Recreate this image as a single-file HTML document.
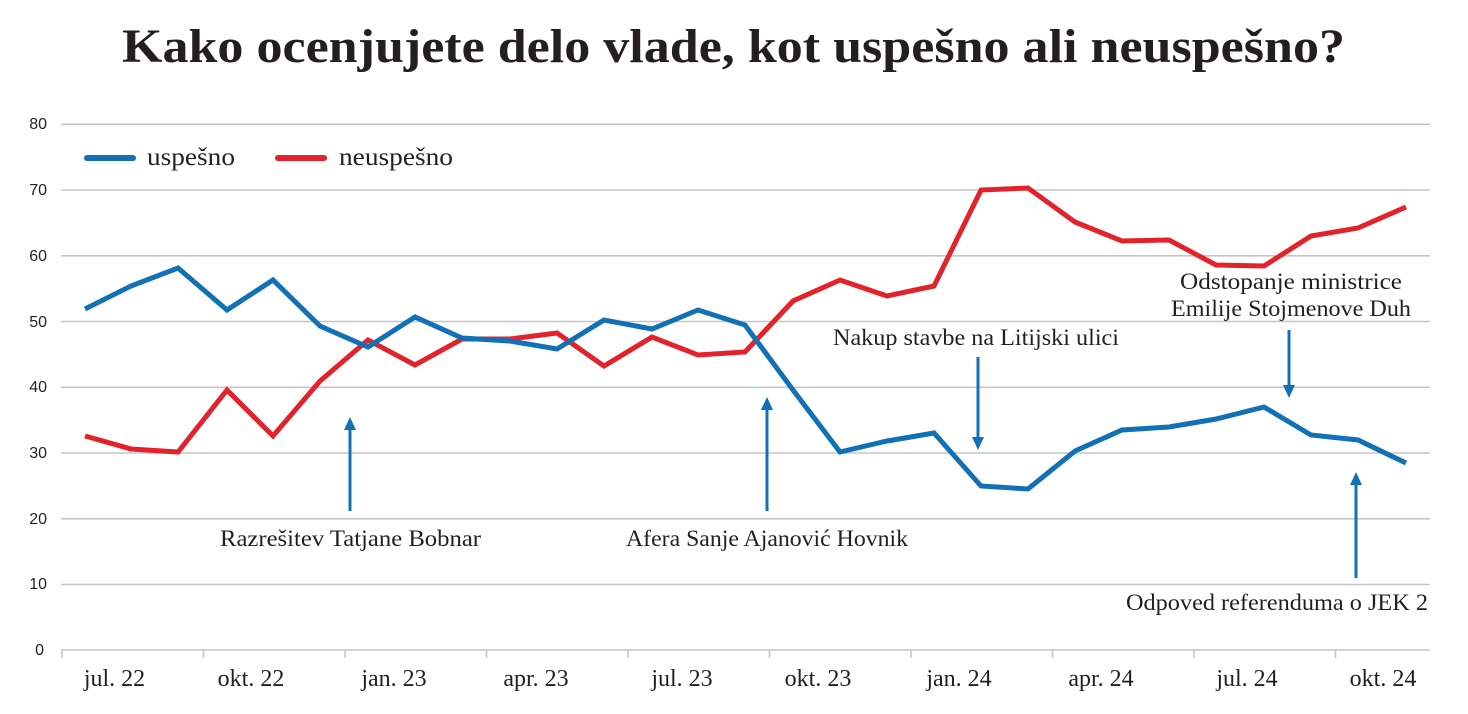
<!DOCTYPE html>
<html>
<head>
<meta charset="utf-8">
<style>
html,body{margin:0;padding:0;background:#fff;}
svg{display:block;}
</style>
</head>
<body>
<svg width="1468" height="714" viewBox="0 0 1468 714" xmlns="http://www.w3.org/2000/svg">
  <rect width="1468" height="714" fill="#fff"/>
  <!-- Title -->
  <text x="122" y="62" font-family="Liberation Serif, serif" font-weight="bold" font-size="48" fill="#231f20" textLength="1223" lengthAdjust="spacingAndGlyphs">Kako ocenjujete delo vlade, kot uspešno ali neuspešno?</text>

  <!-- Gridlines -->
  <g stroke="#c6c6c6" stroke-width="1.6">
    <line x1="61" y1="124.3" x2="1430" y2="124.3"/>
    <line x1="61" y1="190" x2="1430" y2="190"/>
    <line x1="61" y1="255.8" x2="1430" y2="255.8"/>
    <line x1="61" y1="321.5" x2="1430" y2="321.5"/>
    <line x1="61" y1="387.3" x2="1430" y2="387.3"/>
    <line x1="61" y1="453" x2="1430" y2="453"/>
    <line x1="61" y1="518.8" x2="1430" y2="518.8"/>
    <line x1="61" y1="584.5" x2="1430" y2="584.5"/>
    <line x1="61" y1="650" x2="1430" y2="650"/>
    <!-- ticks -->
    <line x1="62" y1="650" x2="62" y2="658"/>
    <line x1="203.5" y1="650" x2="203.5" y2="658"/>
    <line x1="345" y1="650" x2="345" y2="658"/>
    <line x1="486.5" y1="650" x2="486.5" y2="658"/>
    <line x1="628" y1="650" x2="628" y2="658"/>
    <line x1="769.5" y1="650" x2="769.5" y2="658"/>
    <line x1="911" y1="650" x2="911" y2="658"/>
    <line x1="1052.5" y1="650" x2="1052.5" y2="658"/>
    <line x1="1194" y1="650" x2="1194" y2="658"/>
    <line x1="1335.5" y1="650" x2="1335.5" y2="658"/>
  </g>

  <!-- Y labels -->
  <g font-family="Liberation Sans, sans-serif" font-size="16" fill="#231f20" text-anchor="end">
    <text x="47" y="129">80</text>
    <text x="47" y="195">70</text>
    <text x="47" y="261">60</text>
    <text x="47" y="327">50</text>
    <text x="47" y="392">40</text>
    <text x="47" y="458">30</text>
    <text x="47" y="524">20</text>
    <text x="47" y="589">10</text>
    <text x="44" y="655">0</text>
  </g>

  <!-- X labels -->
  <g font-family="Liberation Serif, serif" font-size="24" fill="#231f20" text-anchor="middle">
    <text x="114.5" y="686">jul. 22</text>
    <text x="251" y="686">okt. 22</text>
    <text x="394" y="686">jan. 23</text>
    <text x="536" y="686">apr. 23</text>
    <text x="682" y="686">jul. 23</text>
    <text x="818" y="686">okt. 23</text>
    <text x="959" y="686">jan. 24</text>
    <text x="1101" y="686">apr. 24</text>
    <text x="1247" y="686">jul. 24</text>
    <text x="1383" y="686">okt. 24</text>
  </g>

  <!-- Legend -->
  <line x1="87" y1="158" x2="133" y2="158" stroke="#1270b6" stroke-width="6" stroke-linecap="round"/>
  <text x="147" y="165" font-family="Liberation Serif, serif" font-size="25" fill="#231f20" textLength="88" lengthAdjust="spacingAndGlyphs">uspešno</text>
  <line x1="278" y1="158" x2="324" y2="158" stroke="#e3232b" stroke-width="6" stroke-linecap="round"/>
  <text x="339" y="165" font-family="Liberation Serif, serif" font-size="25" fill="#231f20" textLength="114" lengthAdjust="spacingAndGlyphs">neuspešno</text>

  <!-- Red series -->
  <polyline fill="none" stroke="#e3232b" stroke-width="5" stroke-linejoin="miter" stroke-linecap="butt"
    points="85,436 131,449 178,452 227,390 273,436 320,381 368,340 415,365 462,339 510,339 557,333 604,366 652,337 698,355 745,352 793,301 840,280 887,296 934,286 981,190 1028,188 1075,222 1122,241 1169,240 1216,265 1264,266 1311,236 1358,228 1406,207"/>

  <!-- Blue series -->
  <polyline fill="none" stroke="#1270b6" stroke-width="5" stroke-linejoin="miter" stroke-linecap="butt"
    points="85,309 131,286 178,268 227,310 273,280 320,326 368,347 415,317 462,338 510,341 557,349 604,320 652,329 698,310 745,325 793,390 840,452 887,441 934,433 981,486 1028,489 1075,451 1122,430 1169,427 1216,419 1264,407 1311,435 1358,440 1406,463"/>

  <!-- Arrows -->
  <g stroke="#1270b6" stroke-width="3">
    <line x1="350" y1="511" x2="350" y2="428"/>
    <line x1="767" y1="511" x2="767" y2="408"/>
    <line x1="978" y1="357" x2="978" y2="440"/>
    <line x1="1289" y1="330" x2="1289" y2="388"/>
    <line x1="1356" y1="578" x2="1356" y2="483"/>
  </g>
  <g fill="#1270b6">
    <polygon points="350,417 344,430 356,430"/>
    <polygon points="767,397 761,410 773,410"/>
    <polygon points="978,450 972,437 984,437"/>
    <polygon points="1289,398 1283,385 1295,385"/>
    <polygon points="1356,472 1350,485 1362,485"/>
  </g>

  <!-- Annotations -->
  <g font-family="Liberation Serif, serif" font-size="23" fill="#231f20">
    <text x="220" y="546" textLength="261" lengthAdjust="spacingAndGlyphs">Razrešitev Tatjane Bobnar</text>
    <text x="626" y="546" textLength="282" lengthAdjust="spacingAndGlyphs">Afera Sanje Ajanović Hovnik</text>
    <text x="833" y="345" textLength="286" lengthAdjust="spacingAndGlyphs">Nakup stavbe na Litijski ulici</text>
    <text x="1180" y="289" textLength="222" lengthAdjust="spacingAndGlyphs">Odstopanje ministrice</text>
    <text x="1171" y="316" textLength="240" lengthAdjust="spacingAndGlyphs">Emilije Stojmenove Duh</text>
    <text x="1126" y="610" textLength="302" lengthAdjust="spacingAndGlyphs">Odpoved referenduma o JEK 2</text>
  </g>
</svg>
</body>
</html>
